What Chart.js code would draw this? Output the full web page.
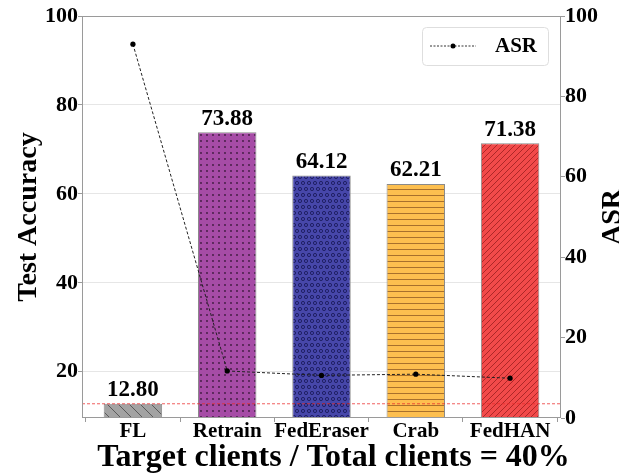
<!DOCTYPE html>
<html>
<head>
<meta charset="utf-8">
<title>Test Accuracy and ASR</title>
<script src="https://cdn.jsdelivr.net/npm/chart.js@4/dist/chart.umd.min.js"></script>
<style>
  html, body { margin: 0; padding: 0; background: #ffffff; }
  #wrap { width: 619px; height: 475px; position: relative; }
</style>
</head>
<body>
<div id="wrap"><canvas id="chart"></canvas></div>
<script>
// ---- data ----
const methods = ['FL', 'Retrain', 'FedEraser', 'Crab', 'FedHAN'];
const accuracy = [12.80, 73.88, 64.12, 62.21, 71.38];
const asr = [93.0, 11.7, 10.6, 10.9, 9.9];
const accuracyTicks = [20, 40, 60, 80, 100];
const asrTicks = [0, 20, 40, 60, 80, 100];
const accuracyRange = [9.6, 100];
const asrRange = [0, 100];
const xTitle = 'Target clients / Total clients = 40%';
const leftTitle = 'Test Accuracy';
const rightTitle = 'ASR';

const SERIF = "'Liberation Serif', 'Times New Roman', Times, serif";
Chart.defaults.font.family = SERIF;
Chart.defaults.font.weight = 'bold';
Chart.defaults.color = '#000000';

// ---- hatch fills for the bars ----
function makePattern(w, h, fill, paint) {
  const c = document.createElement('canvas');
  c.width = w; c.height = h;
  const g = c.getContext('2d');
  g.fillStyle = fill;
  g.fillRect(0, 0, w, h);
  paint(g, w, h);
  return g.createPattern(c, 'repeat');
}
const ctxMain = document.getElementById('chart').getContext('2d');

const backslash = makePattern(11, 11, '#a3a3a3', (g, w, h) => {
  g.strokeStyle = '#5a5a5a'; g.lineWidth = 1;
  for (const x0 of [-w, 0, w]) { g.beginPath(); g.moveTo(x0, 0); g.lineTo(x0 + w, h); g.stroke(); }
});
const dots = makePattern(6, 6, '#a64ca6', (g) => {
  g.fillStyle = '#3d1a3d';
  g.beginPath(); g.arc(3, 3, 0.9, 0, Math.PI * 2); g.fill();
});
const rings = makePattern(12, 12, '#4747aa', (g) => {
  g.strokeStyle = '#1c1c5c'; g.lineWidth = 0.9;
  for (const [x, y] of [[3, 3], [9, 3], [0, 9], [6, 9], [12, 9]]) {
    g.beginPath(); g.arc(x, y, 1.6, 0, Math.PI * 2); g.stroke();
  }
});
const hlines = makePattern(6, 6, '#fdbf4f', (g) => {
  g.strokeStyle = '#a8702c'; g.lineWidth = 1;
  g.beginPath(); g.moveTo(0, 3.5); g.lineTo(6, 3.5); g.stroke();
});
const slash = makePattern(6, 6, '#f24a4a', (g, w, h) => {
  g.strokeStyle = '#a52424'; g.lineWidth = 0.9;
  for (const x0 of [-w, 0, w]) { g.beginPath(); g.moveTo(x0, h); g.lineTo(x0 + w, 0); g.stroke(); }
});
const barFills = [backslash, dots, rings, hlines, slash];

// legend marker: dashed line with a dot
const markerCanvas = (() => {
  const c = document.createElement('canvas');
  c.width = 46; c.height = 10;
  const g = c.getContext('2d');
  g.strokeStyle = '#333'; g.lineWidth = 1; g.setLineDash([2, 1.5]);
  g.beginPath(); g.moveTo(0, 5); g.lineTo(46, 5); g.stroke();
  g.fillStyle = '#000';
  g.beginPath(); g.arc(23, 5, 2.5, 0, Math.PI * 2); g.fill();
  return c;
})();

// ---- drawing helpers ----
const decorations = {
  id: 'decorations',
  afterDatasetsDraw(chart) {
    const { ctx, chartArea: a, scales } = chart;
    // reference line at the FL accuracy level
    const yRef = scales.y.getPixelForValue(accuracy[0]);
    ctx.save();
    ctx.strokeStyle = 'rgba(235,40,40,0.75)';
    ctx.lineWidth = 1;
    ctx.setLineDash([3, 2]);
    ctx.beginPath(); ctx.moveTo(a.left, yRef); ctx.lineTo(a.right, yRef); ctx.stroke();
    ctx.restore();

    // value labels above the bars
    const meta = chart.getDatasetMeta(0);
    ctx.save();
    ctx.font = 'bold 23px ' + SERIF;
    ctx.fillStyle = '#000';
    ctx.textAlign = 'center';
    ctx.textBaseline = 'bottom';
    meta.data.forEach((bar, i) => {
      ctx.fillText(accuracy[i].toFixed(2), bar.x, bar.y - 2);
    });
    ctx.restore();
  },
  afterDraw(chart) {
    const { ctx, chartArea: a } = chart;
    ctx.save();
    // frame around the plot
    ctx.strokeStyle = '#9a9a9a';
    ctx.lineWidth = 1;
    ctx.strokeRect(a.left + 0.5, a.top + 0.5, a.right - a.left - 1, a.bottom - a.top - 1);

    // x axis title
    ctx.font = 'bold 32px ' + SERIF;
    ctx.fillStyle = '#000';
    ctx.textAlign = 'center';
    ctx.textBaseline = 'alphabetic';
    ctx.fillText(xTitle, (a.left + a.right) / 2 + 12, 466);

    // right axis title, reading bottom to top
    ctx.font = 'bold 28px ' + SERIF;
    ctx.textBaseline = 'middle';
    ctx.translate(613, (a.top + a.bottom) / 2);
    ctx.rotate(-Math.PI / 2);
    ctx.fillText(rightTitle, 0, 0);
    ctx.restore();

    // legend box for the ASR series
    const ds = chart.data.datasets[1];
    const bw = 126, bh = 38;
    const bx = a.right - 13 - bw, by = a.top + 11;
    ctx.save();
    ctx.fillStyle = 'rgba(255,255,255,0.9)';
    ctx.strokeStyle = '#dedede';
    ctx.lineWidth = 1;
    ctx.beginPath();
    ctx.roundRect(bx + 0.5, by + 0.5, bw, bh, 4);
    ctx.fill(); ctx.stroke();
    ctx.drawImage(markerCanvas, bx + 8, by + bh / 2 - 5);
    ctx.font = 'bold 21px ' + SERIF;
    ctx.fillStyle = '#000';
    ctx.textAlign = 'left';
    ctx.textBaseline = 'middle';
    ctx.fillText(ds.label, bx + 73, by + bh / 2 + 1);
    ctx.restore();
  }
};

const positions = methods.map((_, i) => i);

new Chart(ctxMain, {
  data: {
    datasets: [
      {
        type: 'bar',
        label: 'Test Accuracy',
        data: positions.map(i => ({ x: i, y: accuracy[i] })),
        yAxisID: 'y',
        backgroundColor: barFills,
        borderColor: '#8a8a8a',
        borderWidth: 1,
        barPercentage: 0.62,
        categoryPercentage: 1.0,
        order: 2
      },
      {
        type: 'line',
        label: 'ASR',
        data: positions.map(i => ({ x: i, y: asr[i] })),
        yAxisID: 'y1',
        borderColor: '#222222',
        borderWidth: 1,
        borderDash: [3, 2],
        pointRadius: 2.6,
        pointBackgroundColor: '#000000',
        pointBorderWidth: 0,
        tension: 0,
        order: 1
      }
    ]
  },
  options: {
    responsive: true,
    maintainAspectRatio: false,
    animation: false,
    layout: { padding: { top: 16, left: 0, right: 0, bottom: 0 } },
    plugins: {
      legend: { display: false },
      tooltip: { enabled: false }
    },
    scales: {
      x: {
        type: 'linear',
        min: -0.54,
        max: positions.length - 1 + 0.54,
        offset: false,
        afterBuildTicks(s) { s.ticks = positions.map(v => ({ value: v })); },
        grid: { display: true, drawOnChartArea: false, drawTicks: true, tickLength: 4, tickColor: '#9a9a9a' },
        border: { display: false },
        ticks: {
          font: { size: 21, weight: 'bold' }, color: '#000', padding: -3, maxRotation: 0, autoSkip: false,
          callback: (v) => methods[v]
        },
        title: { display: false },
        afterFit(s) { s.height = 57; }
      },
      y: {
        position: 'left',
        min: accuracyRange[0],
        max: accuracyRange[1],
        afterBuildTicks(s) { s.ticks = accuracyTicks.map(v => ({ value: v })); },
        grid: { color: '#e6e6e6', lineWidth: 1, drawTicks: true, tickLength: 4, tickColor: '#9a9a9a' },
        border: { display: false },
        ticks: { font: { size: 22, weight: 'bold' }, color: '#000', padding: 0 },
        title: { display: true, text: leftTitle, font: { size: 28, weight: 'bold' }, color: '#000', padding: { top: 12, bottom: 0 } },
        afterFit(s) { s.width = 82; }
      },
      y1: {
        position: 'right',
        min: asrRange[0],
        max: asrRange[1],
        afterBuildTicks(s) { s.ticks = asrTicks.map(v => ({ value: v })); },
        grid: { drawOnChartArea: false, drawTicks: true, tickLength: 4, tickColor: '#9a9a9a' },
        border: { display: false },
        ticks: { font: { size: 22, weight: 'bold' }, color: '#000', padding: 0 },
        afterFit(s) { s.width = 58; }
      }
    }
  },
  plugins: [decorations]
});
</script>
</body>
</html>
